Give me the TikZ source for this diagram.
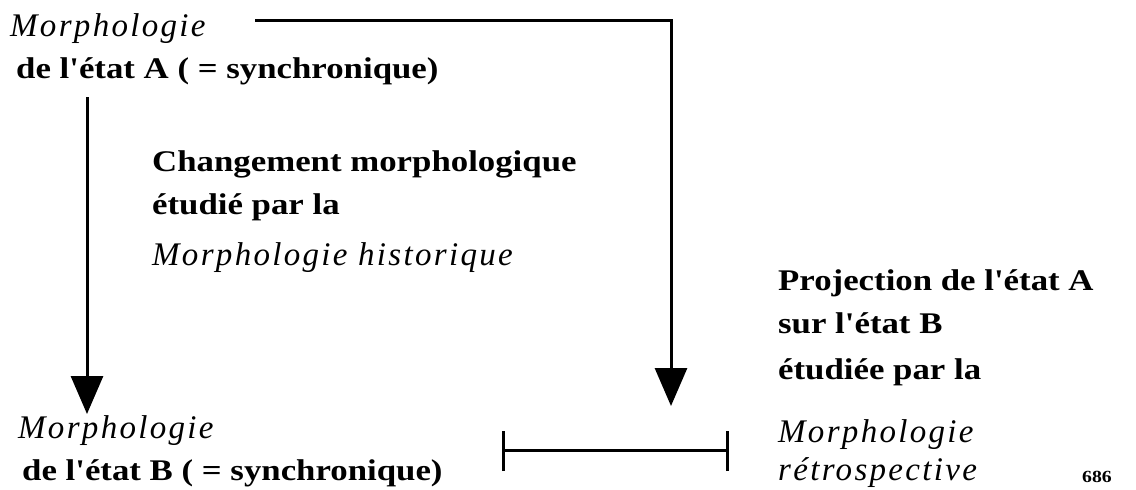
\documentclass[tikz,border=0pt]{standalone}
\usepackage{fontspec}
\setmainfont{Liberation Serif}
\newfontfamily\bdfont[FakeStretch=1.16]{Liberation Serif}
\newfontfamily\spit[LetterSpace=7]{Liberation Serif}
\usetikzlibrary{arrows.meta}
\tikzset{
  bt/.style={font=\fontsize{30}{36}\selectfont\bdfont\bfseries, inner sep=0pt, anchor=base west},
  it/.style={font=\fontsize{33}{40}\selectfont\spit\itshape, inner sep=0pt, anchor=base west},
  conn/.style={line width=3pt},
  arr/.style={conn, -{Triangle[width=32pt,length=38pt]}},
}
\begin{document}
\begin{tikzpicture}[x=1pt,y=-1pt]
\useasboundingbox (0,0) rectangle (1136,490);
% top-left
\node[it] (mA) at (10,36) {Morphologie};
\node[bt] (sA) at (16,78) {de l'état A ( = synchronique)};
% middle
\node[bt] (c1) at (152,171) {Changement morphologique};
\node[bt] (c2) at (152,214) {étudié par la};
\node[it] (c3) at (152,265) {Morphologie historique};
% right
\node[bt] (p1) at (778,290) {Projection de l'état A};
\node[bt] (p2) at (778,333) {sur l'état B};
\node[bt] (p3) at (778,379) {étudiée par la};
% bottom-left
\node[it] (mB) at (18,438) {Morphologie};
\node[bt] (sB) at (22,480) {de l'état B ( = synchronique)};
% bottom-right
\node[it] (r1) at (778,442) {Morphologie};
\node[it] (r2) at (778,480) {rétrospective};
\node[font=\fontsize{17}{20}\selectfont\bdfont\bfseries, inner sep=0pt, anchor=base west] (pg) at (1082,482) {686};
% connectors
\coordinate (a1) at (87,97);
\coordinate (a2) at (87,414);
\draw[arr] (a1) -- (a2);
\coordinate (t0) at (255,20);
\coordinate (t1) at (671,20);
\coordinate (t2) at (671,406);
\draw[arr] (t0) -- (t1) -- (t2);
% bracket
\coordinate (b1) at (503,450);
\coordinate (b2) at (727,450);
\draw[conn] (b1) -- (b2);
\draw[conn] ([yshift=-21pt]b1) -- ([yshift=19pt]b1);
\draw[conn] ([yshift=-21pt]b2) -- ([yshift=19pt]b2);
\end{tikzpicture}
\end{document}
